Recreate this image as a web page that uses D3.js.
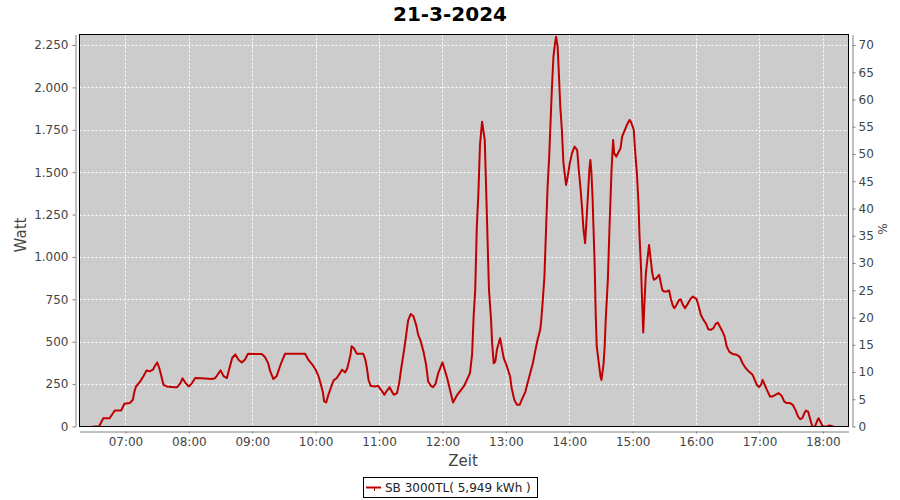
<!DOCTYPE html>
<html><head><meta charset="utf-8">
<script src="https://cdn.jsdelivr.net/npm/d3@7"></script>
<style>
body{margin:0;background:#fff}
text{font-family:"DejaVu Sans",sans-serif}
</style>
</head><body>
<svg id="c" width="900" height="500"></svg>
<script>
const chartTitle = "21-3-2024";
const seriesName = "SB 3000TL( 5,949 kWh )";
const times = [
"06:29:00","06:35:00","06:39:00","06:45:00","06:50:00","06:56:00","06:59:00","07:04:00","07:07:00","07:08:30",
"07:10:00","07:14:00","07:17:00","07:20:00","07:23:00","07:26:00","07:28:00","07:30:00","07:32:00","07:34:00",
"07:36:00","07:39:00","07:46:00","07:49:00","07:52:00","07:54:00","07:57:00","08:00:00","08:03:00","08:06:00",
"08:12:00","08:22:00","08:25:00","08:30:00","08:33:00","08:36:00","08:38:00","08:41:00","08:44:00","08:47:00",
"08:50:00","08:53:00","08:56:00","09:09:00","09:12:00","09:15:00","09:17:00","09:20:00","09:23:00","09:26:00",
"09:28:00","09:31:00","09:50:00","09:53:00","09:57:00","10:00:00","10:03:00","10:05:00","10:07:00","10:08:00",
"10:10:00","10:12:00","10:15:00","10:17:00","10:20:00","10:23:00","10:25:00","10:28:00","10:30:00","10:33:00",
"10:34:00","10:36:00","10:39:00","10:45:00","10:47:00","10:48:30","10:50:00","10:52:00","10:56:00","10:59:00",
"11:03:00","11:05:00","11:07:00","11:10:00","11:12:00","11:14:00","11:17:00","11:19:00","11:21:00","11:23:30",
"11:25:30","11:27:30","11:30:00","11:32:30","11:35:00","11:37:00","11:39:30","11:42:00","11:44:30","11:46:30",
"11:49:00","11:51:00","11:53:30","11:56:00","12:00:00","12:04:30","12:10:00","12:14:00","12:20:30","12:26:00",
"12:28:00","12:29:30","12:31:00","12:32:30","12:34:00","12:35:30","12:37:30","12:40:00","12:41:00","12:44:00",
"12:46:00","12:47:00","12:48:30","12:50:00","12:51:30","12:54:30","12:58:00","13:01:00","13:04:00","13:05:30",
"13:08:00","13:10:30","13:13:00","13:15:00","13:18:30","13:20:30","13:23:00","13:25:30","13:28:00","13:30:00",
"13:32:30","13:33:30","13:34:30","13:36:30","13:38:00","13:39:30","13:41:00","13:42:00","13:43:30","13:45:00",
"13:46:30","13:47:30","13:49:00","13:50:00","13:51:30","13:53:00","13:54:30","13:56:00","13:57:00","13:58:30",
"14:00:30","14:02:30","14:05:00","14:07:30","14:09:00","14:10:30","14:12:00","14:13:30","14:15:00","14:16:30",
"14:19:00","14:20:00","14:21:00","14:22:00","14:23:00","14:24:00","14:25:00","14:26:00","14:28:00","14:29:30",
"14:30:30","14:32:30","14:33:30","14:34:30","14:36:30","14:38:00","14:40:00","14:41:30","14:42:30","14:44:30",
"14:48:30","14:50:00","14:54:30","14:57:00","14:58:30","15:01:00","15:02:30","15:04:00","15:05:30","15:06:30",
"15:08:00","15:09:00","15:10:00","15:11:00","15:12:30","15:15:30","15:17:30","15:18:30","15:20:00","15:22:30",
"15:25:00","15:28:00","15:29:30","15:32:00","15:34:30","15:36:00","15:38:00","15:39:30","15:41:30","15:44:00",
"15:45:30","15:47:30","15:49:30","15:52:00","15:54:30","15:57:00","16:00:30","16:02:30","16:04:30","16:07:00",
"16:09:30","16:11:30","16:14:00","16:16:30","16:18:30","16:20:30","16:22:30","16:25:00","16:27:00","16:29:00",
"16:31:30","16:34:30","16:38:30","16:41:30","16:44:00","16:47:00","16:50:00","16:53:30","16:55:30","16:57:30",
"16:59:30","17:01:30","17:03:00","17:05:00","17:07:00","17:10:00","17:12:30","17:15:00","17:18:00","17:21:00",
"17:23:30","17:26:00","17:29:00","17:31:30","17:34:00","17:36:30","17:38:30","17:40:30","17:42:30","17:44:00",
"17:46:00","17:48:00","17:50:00","17:52:30","17:55:00","17:56:00","17:57:30","18:00:00","18:04:00","18:05:30",
"18:07:30","18:10:00"
];
const watts = [
0,0,49,49,95,95,134,138,158,207,
236,266,296,331,325,335,358,378,345,296,
246,236,232,232,256,284,256,236,256,286,
284,280,286,331,296,286,335,404,425,394,
378,394,429,427,410,374,325,280,296,351,
384,429,429,394,364,335,291,246,197,148,
142,187,240,272,286,315,335,319,345,424,
473,463,429,429,394,345,276,240,236,240,
207,187,207,232,207,187,197,256,345,443,
532,626,664,650,601,542,502,443,364,266,
240,232,252,315,378,285,141,187,240,314,
422,648,806,1179,1375,1660,1798,1690,1474,806,
629,491,373,383,452,521,403,354,295,226,
157,128,128,157,206,255,314,373,452,511,
570,629,707,884,1159,1415,1592,1749,1985,2181,
2260,2299,2240,2103,1887,1749,1553,1474,1425,1474,
1553,1611,1651,1630,1513,1415,1297,1159,1081,1238,
1513,1572,1494,1356,1159,963,668,472,373,295,
275,373,472,629,865,1159,1513,1690,1611,1592,
1641,1710,1778,1808,1795,1750,1611,1494,1317,1120,
923,727,555,708,905,1071,963,905,865,875,
895,806,796,796,802,757,712,698,718,747,
750,718,698,722,751,767,751,708,659,629,
606,574,570,580,605,613,590,560,531,472,
440,428,423,409,373,344,324,305,275,246,
232,246,275,246,216,177,177,187,197,181,
147,138,138,128,98,59,43,49,79,94,
88,43,0,0,39,49,29,0,0,6,
4,0
];
const leftTicks = [0,250,500,750,1000,1250,1500,1750,2000,2250];
const rightTicks = [0,5,10,15,20,25,30,35,40,45,50,55,60,65,70];
const hourTicks = ["07:00","08:00","09:00","10:00","11:00","12:00","13:00","14:00","15:00","16:00","17:00","18:00"];
const xDomain = ["06:16:30","18:24:15"];
const yMax = 2312;
const pctAt2250 = 70;

const parseT = d3.timeParse("%H:%M:%S");
const parseH = d3.timeParse("%H:%M");
const data = times.map((t,i)=>({t:parseT(t), v:watts[i]}));

const L=79.5, R=848.5, T=34.5, B=426.5;
const svg = d3.select("#c");
const x = d3.scaleTime().domain(xDomain.map(parseT)).range([L,R]);
const y = d3.scaleLinear().domain([0,yMax]).range([B,T]);
const y2 = d3.scaleLinear().domain([0,yMax*pctAt2250/2250]).range([B,T]);
const de = d3.formatLocale({decimal:",",thousands:".",grouping:[3],currency:["","€"]});
const fmtW = de.format(",");

// title
svg.append("text").attr("x",450).attr("y",21).attr("text-anchor","middle")
  .attr("font-size",20).attr("font-weight","bold").attr("fill","#000").text(chartTitle);

// plot background
svg.append("rect").attr("x",L).attr("y",T).attr("width",R-L).attr("height",B-T).attr("fill","#cccccc");

// grid
const hourDates = hourTicks.map(parseH);
svg.append("g").selectAll("line").data(hourDates).join("line")
  .attr("x1",d=>Math.round(x(d))+0.5).attr("x2",d=>Math.round(x(d))+0.5)
  .attr("y1",T).attr("y2",B).attr("stroke","#fff").attr("stroke-dasharray","2,2");
svg.append("g").selectAll("line").data(leftTicks.filter(d=>d>0)).join("line")
  .attr("y1",d=>Math.round(y(d))+0.5).attr("y2",d=>Math.round(y(d))+0.5)
  .attr("x1",L).attr("x2",R).attr("stroke","#fff").attr("stroke-dasharray","2,2");

// line
svg.append("clipPath").attr("id","clip").append("rect").attr("x",L).attr("y",T).attr("width",R-L).attr("height",B-T);
svg.append("path").datum(data).attr("clip-path","url(#clip)")
  .attr("fill","none").attr("stroke","#c00000").attr("stroke-width",2).attr("stroke-linejoin","round")
  .attr("d",d3.line().x(d=>x(d.t)).y(d=>y(d.v)));

// frame
svg.append("rect").attr("x",L).attr("y",T).attr("width",R-L).attr("height",B-T)
  .attr("fill","none").attr("stroke","#000");

function styleAxis(g){
  g.select(".domain").attr("stroke","#808080");
  g.selectAll(".tick line").attr("stroke","#808080");
  g.selectAll("text").attr("fill","#444").attr("font-size",12).attr("font-family","DejaVu Sans");
}
// axes
const ax = svg.append("g").attr("transform","translate(0,431.5)")
  .call(d3.axisBottom(x).tickValues(hourDates).tickFormat(d3.timeFormat("%H:%M")).tickSize(2).tickSizeOuter(0).tickPadding(4));
styleAxis(ax);
const ay = svg.append("g").attr("transform","translate(75.5,0)")
  .call(d3.axisLeft(y).tickValues(leftTicks).tickFormat(fmtW).tickSize(3).tickSizeOuter(0).tickPadding(4));
styleAxis(ay);
const ay2 = svg.append("g").attr("transform","translate(852.5,0)")
  .call(d3.axisRight(y2).tickValues(rightTicks).tickSize(3).tickSizeOuter(0).tickPadding(3));
styleAxis(ay2);

// axis labels
svg.append("text").attr("transform","translate(26,235) rotate(-90)").attr("text-anchor","middle")
  .attr("font-size",15).attr("fill","#444").text("Watt");
svg.append("text").attr("x",463).attr("y",466).attr("text-anchor","middle")
  .attr("font-size",15).attr("fill","#444").text("Zeit");
svg.append("text").attr("transform","translate(887,229) rotate(-90)").attr("text-anchor","middle")
  .attr("font-size",12).attr("fill","#444").text("%");

// legend
const lg = svg.append("g");
lg.append("rect").attr("x",363.5).attr("y",477.5).attr("width",174).attr("height",20)
  .attr("fill","#fff").attr("stroke","#000");
lg.append("line").attr("x1",366).attr("x2",381).attr("y1",487.5).attr("y2",487.5)
  .attr("stroke","#c00000").attr("stroke-width",2);
lg.append("line").attr("x1",374.5).attr("x2",374.5).attr("y1",487).attr("y2",491)
  .attr("stroke","#c00000").attr("stroke-width",1);
lg.append("text").attr("x",385).attr("y",491.5).attr("font-size",12).attr("fill","#222").text(seriesName);
</script>
</body></html>
